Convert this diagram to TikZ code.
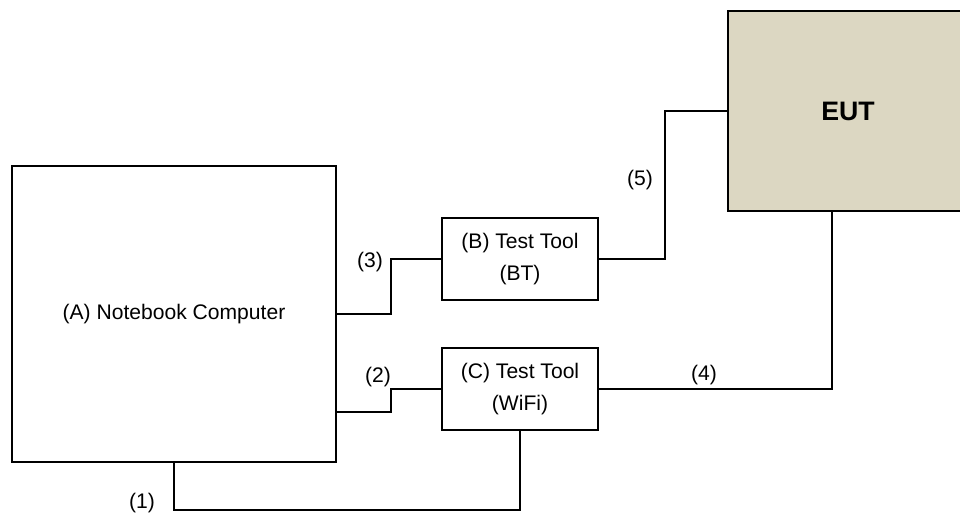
\documentclass[tikz,border=0pt]{standalone}
\usepackage{fontspec}
\setmainfont{Liberation Sans}
\definecolor{eutfill}{RGB}{220,215,194}
\tikzset{
  box/.style={draw, line width=1.4pt, align=center, inner sep=0pt,
    font=\fontsize{15}{23}\selectfont},
  wire/.style={line width=1.4pt},
  lbl/.style={font=\fontsize{15}{18}\selectfont}
}
\begin{document}
\begin{tikzpicture}
   \useasboundingbox (0,0) rectangle (24,12.875);

   \node[box, minimum width=8.1cm, minimum height=7.4cm] (nb) at (4.35,5.025) {(A) Notebook Computer};
   \node[box, minimum width=3.9cm, minimum height=2.05cm] (bt) at (13.0,6.4) {(B) Test Tool\\(BT)};
   \node[box, minimum width=3.9cm, minimum height=2.05cm] (wifi) at (13.0,3.15) {(C) Test Tool\\(WiFi)};
   % EUT runs off the right edge of the page
   \node[box, fill=eutfill, minimum width=6.6cm, minimum height=5.0cm] (eut) at (21.5,10.1) {};
   \node[font=\fontsize{19}{22}\selectfont\bfseries] (euttxt) at (21.2,10.1) {EUT};

   \draw[wire] (nb.south) -- ++(0,-1.175) -| (wifi.south);
   \draw[wire] ([yshift=-2.45cm]nb.east) -- ++(1.35,0) |- (wifi.west);
   \draw[wire] (nb.east) -- ++(1.35,0) |- (bt.west);
   \draw[wire] (wifi.east) -| ([xshift=-0.7cm]eut.south);
   \draw[wire] (bt.east) -- ++(1.65,0) |- (eut.west);

   \node[lbl] (l1) at (3.55,0.3) {(1)};
   \node[lbl] (l2) at (9.45,3.45) {(2)};
   \node[lbl] (l3) at (9.25,6.325) {(3)};
   \node[lbl] (l4) at (17.6,3.5) {(4)};
   \node[lbl] (l5) at (16.0,8.375) {(5)};
\end{tikzpicture}
\end{document}
